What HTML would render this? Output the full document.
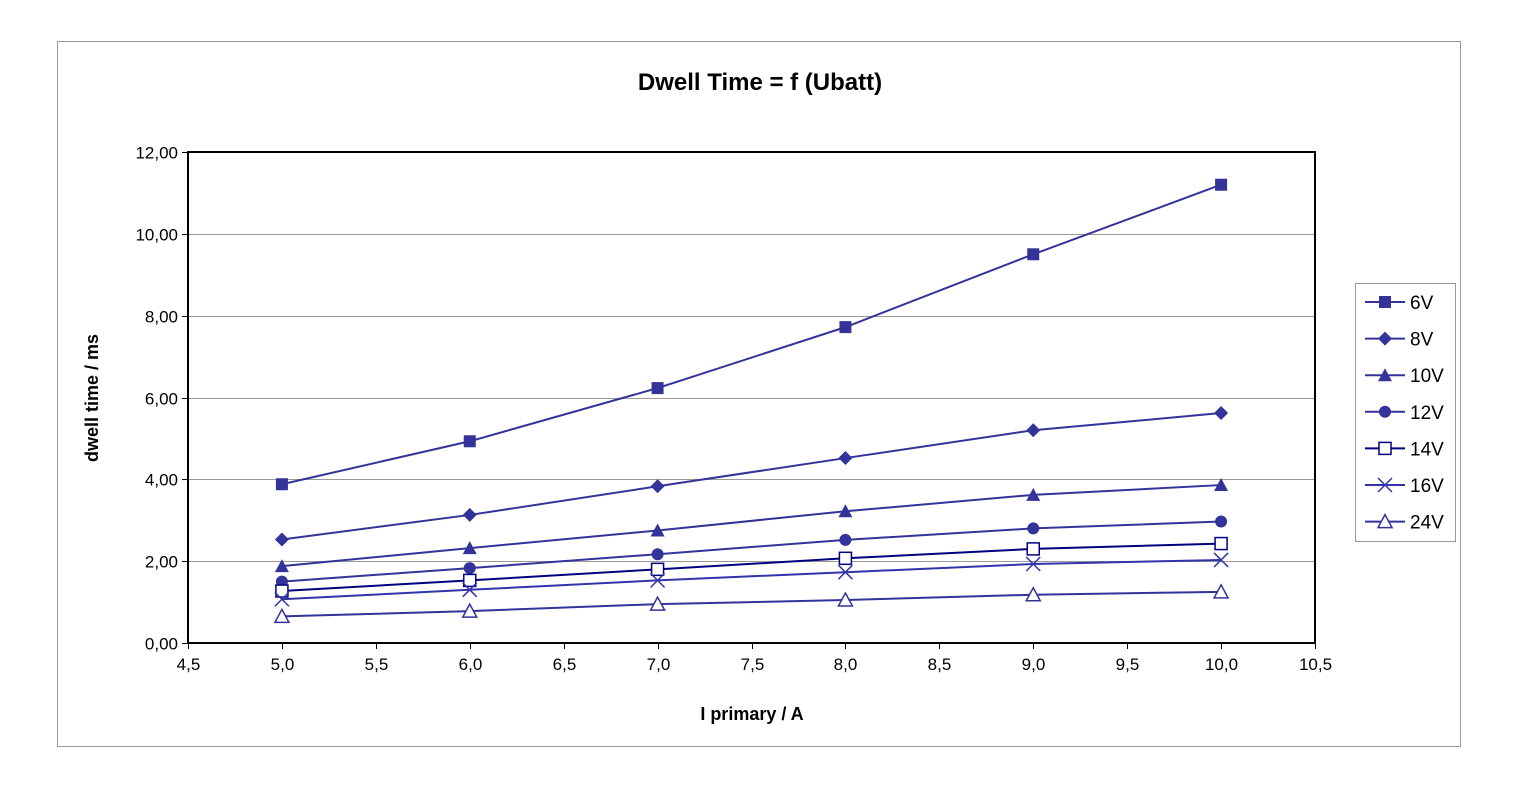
<!DOCTYPE html>
<html><head><meta charset="utf-8"><style>
body{margin:0;background:#fff;}
svg{display:block;font-family:"Liberation Sans",Arial,sans-serif;}
</style></head><body>
<svg id="chart" width="1520" height="788">
<rect x="57.5" y="41.5" width="1403" height="705" fill="#fff" stroke="#999"/>
<text x="760" y="90" text-anchor="middle" font-size="24" font-weight="bold">Dwell Time = f (Ubatt)</text>
<g id="grid"></g>
<g id="series"></g>
<g id="axes"></g>
<text x="752" y="720" text-anchor="middle" font-size="18" font-weight="bold">I primary / A</text>
<text transform="translate(98,398) rotate(-90)" text-anchor="middle" font-size="18" font-weight="bold">dwell time / ms</text>
<rect x="1355.5" y="283.5" width="100" height="258" fill="#fff" stroke="#999"/>
<g id="legend"></g>
</svg>
<script>
const xs=[5,6,7,8,9,10];
const seriesNames=["6V","8V","10V","12V","14V","16V","24V"];
const v6=[3.88,4.93,6.23,7.72,9.50,11.20];
const v8=[2.53,3.13,3.83,4.52,5.20,5.62];
const v10=[1.88,2.32,2.75,3.22,3.62,3.86];
const v12=[1.50,1.83,2.17,2.52,2.80,2.97];
const v14=[1.27,1.53,1.80,2.07,2.30,2.43];
const v16=[1.07,1.30,1.53,1.73,1.93,2.03];
const v24=[0.65,0.78,0.95,1.05,1.18,1.25];
const xTicks=["4,5","5,0","5,5","6,0","6,5","7,0","7,5","8,0","8,5","9,0","9,5","10,0","10,5"];
const yTicks=["0,00","2,00","4,00","6,00","8,00","10,00","12,00"];
const allSeries=[v6,v8,v10,v12,v14,v16,v24];
const markers=["sq","dia","tri","circ","osq","x","otri"];
const colors=["#333399","#333399","#333399","#333399","#000080","#3333aa","#333399"];
const X0=188,X1=1315,Y0=643,Y1=152;
const sx=v=>X0+(v-4.5)/6*(X1-X0);
const sy=v=>Y0-v/12*(Y0-Y1);
const NS="http://www.w3.org/2000/svg";
function mk(p,t,a){const e=document.createElementNS(NS,t);for(const k in a)e.setAttribute(k,a[k]);p.appendChild(e);return e;}
const grid=document.getElementById('grid'),axes=document.getElementById('axes'),ser=document.getElementById('series'),leg=document.getElementById('legend');
yTicks.forEach((t,i)=>{const y=Math.round(sy(i*2))+0.5;
 if(i>0&&i<6){const g=mk(grid,'line',{x1:X0,x2:X1,y1:y,y2:y,stroke:'#999','stroke-width':1});
 
 }
 mk(axes,'line',{x1:X0-6,x2:X0,y1:y,y2:y,stroke:'#000'});
 const tx=mk(axes,'text',{x:X0-10,y:y+6,'text-anchor':'end','font-size':17});tx.textContent=t;
 
 
});
xTicks.forEach((t,i)=>{const x=Math.round(sx(4.5+i*0.5))+0.5;
 mk(axes,'line',{x1:x,x2:x,y1:Y0,y2:Y0+6,stroke:'#000'});
 const tx=mk(axes,'text',{x:x,y:Y0+27,'text-anchor':'middle','font-size':17});tx.textContent=t;
 
 
});
const pa=mk(axes,'rect',{x:X0,y:Y1,width:X1-X0,height:Y0-Y1,fill:'none',stroke:'#000','stroke-width':2});


function marker(g,type,x,y,c){
 if(type=='sq')mk(g,'rect',{x:x-6,y:y-6,width:12,height:12,fill:c});
 else if(type=='osq')mk(g,'rect',{x:x-6,y:y-6,width:12,height:12,fill:'#fff',stroke:c,'stroke-width':1.5});
 else if(type=='dia')mk(g,'polygon',{points:`${x},${y-7} ${x+7},${y} ${x},${y+7} ${x-7},${y}`,fill:c});
 else if(type=='tri')mk(g,'polygon',{points:`${x},${y-7} ${x+7},${y+6} ${x-7},${y+6}`,fill:c});
 else if(type=='otri')mk(g,'polygon',{points:`${x},${y-7} ${x+7},${y+6} ${x-7},${y+6}`,fill:'#fff',stroke:c,'stroke-width':1.5});
 else if(type=='circ')mk(g,'circle',{cx:x,cy:y,r:6,fill:c});
 else if(type=='x'){mk(g,'path',{d:`M${x-7},${y-7}L${x+7},${y+7}M${x+7},${y-7}L${x-7},${y+7}`,stroke:c,'stroke-width':1.5});}
}
allSeries.forEach((vals,si)=>{
 const g=mk(ser,'g',{});
 
 
 const c=colors[si];
 mk(g,'polyline',{points:vals.map((v,i)=>sx(xs[i])+','+sy(v)).join(' '),fill:'none',stroke:c,'stroke-width':2});
 vals.forEach((v,i)=>marker(g,markers[si],sx(xs[i]),sy(v),c));
 const ly=302+si*36.6;
 const lg=mk(leg,'g',{});
 
 
 mk(lg,'line',{x1:1365,x2:1405,y1:ly,y2:ly,stroke:c,'stroke-width':2});
 marker(lg,markers[si],1385,ly,c);
 const t=mk(lg,'text',{x:1410,y:ly+7,'font-size':19});t.textContent=seriesNames[si];
});
</script>
</body></html>
